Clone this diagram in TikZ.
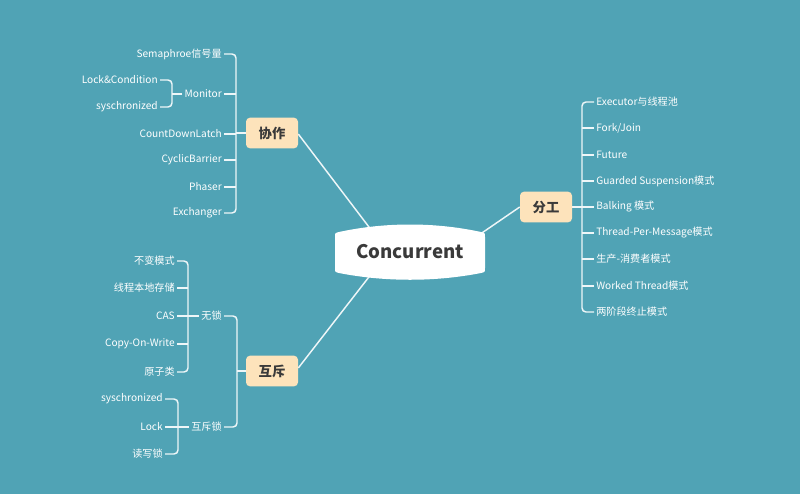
\documentclass[tikz,border=0pt]{standalone}
\usepackage{fontspec}
\setmainfont{Noto Sans CJK SC}
\usetikzlibrary{backgrounds}
\definecolor{bgc}{HTML}{50A3B5}
\definecolor{boxc}{HTML}{FDE3BB}
\definecolor{ink}{HTML}{3A3A3A}
\definecolor{lnc}{HTML}{EEF6F8}
\tikzset{
  leaf/.style={text=white, font=\fontsize{7.6}{9}\selectfont, inner xsep=1.5, inner ysep=1},
  lleaf/.style={leaf, anchor=east},
  rleaf/.style={leaf, anchor=west},
  topic/.style={fill=boxc, rounded corners=3, text=ink, font=\fontsize{10}{12}\selectfont\bfseries, minimum width=39, minimum height=23, inner sep=0},
  conn/.style={draw=lnc, line width=1.1},
  brk/.style={conn, rounded corners=3},
}
\begin{document}
\begin{tikzpicture}[x=0.75pt,y=-0.75pt]
\useasboundingbox (0,0) rectangle (800,494);
% central shape
\fill[white] (335,237) .. controls (335,233) .. (339,232) .. controls (385,222) and (435,222) .. (481,232) .. controls (485,233) .. (485,237) -- (485,268) .. controls (485,272) .. (481,273) .. controls (435,282) and (385,282) .. (339,273) .. controls (335,272) .. (335,268) -- cycle;
\node[text=ink, font=\fontsize{14}{17}\selectfont\bfseries] (root) at (410,252) {Concurrent};
\coordinate (rA) at (372,231);
\coordinate (rB) at (476,237);
\coordinate (rC) at (372,273);

% topics
\node[topic] (xz) at (272,133) {协作};
\node[topic] (fg) at (546,207) {分工};
\node[topic] (hc) at (272,371) {互斥};

% 协作 children
\node[lleaf] (x1) at (224,54) {Semaphroe信号量};
\node[lleaf] (x2) at (224,94) {Monitor};
\node[lleaf] (x3) at (224,134) {CountDownLatch};
\node[lleaf] (x4) at (224,160) {CyclicBarrier};
\node[lleaf] (x5) at (224,187) {Phaser};
\node[lleaf] (x6) at (224,213) {Exchanger};
\node[lleaf] (m1) at (160,80) {Lock\&Condition};
\node[lleaf] (m2) at (160,107) {syschronized};
\coordinate (bx) at (236,134);
\coordinate (bm) at (172,94);

% 分工 children
\node[rleaf] (f1) at (594,102) {Executor与线程池};
\node[rleaf] (f2) at (594,128) {Fork/Join};
\node[rleaf] (f3) at (594,155) {Future};
\node[rleaf] (f4) at (594,181) {Guarded Suspension模式};
\node[rleaf] (f5) at (594,207) {Balking 模式};
\node[rleaf] (f6) at (594,233) {Thread-Per-Message模式};
\node[rleaf] (f7) at (594,259) {生产-消费者模式};
\node[rleaf] (f8) at (594,286) {Worked Thread模式};
\node[rleaf] (f9) at (594,312) {两阶段终止模式};
\coordinate (bf) at (582,207);

% 互斥 children
\node[lleaf] (h1) at (224,316) {无锁};
\node[lleaf] (h2) at (224,427) {互斥锁};
\node[lleaf] (w1) at (177,261) {不变模式};
\node[lleaf] (w2) at (177,288) {线程本地存储};
\node[lleaf] (w3) at (177,316) {CAS};
\node[lleaf] (w4) at (177,344) {Copy-On-Write};
\node[lleaf] (w5) at (177,372) {原子类};
\node[lleaf] (s1) at (165,399) {syschronized};
\node[lleaf] (s2) at (165,427) {Lock};
\node[lleaf] (s3) at (165,454) {读写锁};
\coordinate (bh) at (237,371);
\coordinate (bw) at (188,316);
\coordinate (bs) at (178,427);

\begin{pgfonlayer}{background}
\fill[bgc] (0,0) rectangle (800,494);
% root links
\draw[conn] (xz.east |- 0,134) -- (rA);
\draw[conn] (fg.west) -- (rB);
\draw[conn] (hc.east |- 0,368) -- (rC);
% 协作 bracket
\draw[brk] (x1.east) -| (bx) |- (x6.east);
\foreach \n in {x2,x3,x4,x5} \draw[conn] (\n.east) -- (\n.east -| bx);
\draw[conn] (xz.west) -- (xz.west -| bx);
\draw[brk] (m1.east) -| (bm) |- (m2.east);
\draw[conn] (x2.west) -- (bm);
% 分工 bracket
\draw[brk] (f1.west) -| (bf) |- (f9.west);
\foreach \n in {f2,f3,f4,f6,f7,f8} \draw[conn] (\n.west) -- (\n.west -| bf);
\draw[conn] (fg.east) -- (f5.west);
% 互斥 bracket
\draw[brk] (h1.east) -| (bh) |- (h2.east);
\draw[conn] (hc.west) -- (bh);
\draw[brk] (w1.east) -| (bw) |- (w5.east);
\foreach \n in {w2,w4} \draw[conn] (\n.east) -- (\n.east -| bw);
\draw[conn] (w3.east) -- (h1.west);
\draw[brk] (s1.east) -| (bs) |- (s3.east);
\draw[conn] (s2.east) -- (h2.west);
\end{pgfonlayer}
\end{tikzpicture}
\end{document}
